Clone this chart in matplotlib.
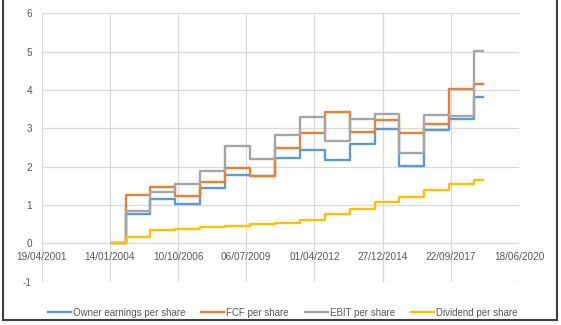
import datetime as dt

import matplotlib
matplotlib.use("Agg")
import matplotlib.pyplot as plt
import matplotlib.dates as mdates
from matplotlib.lines import Line2D

# yearly figures, each held until the next report date
report_dates = ["2004-02-12", "2004-08-31", "2005-08-31", "2006-08-31", "2007-08-31",
                "2008-08-31", "2009-08-31", "2010-08-31", "2011-08-31", "2012-08-31",
                "2013-08-31", "2014-08-31", "2015-08-31", "2016-08-31", "2017-08-31",
                "2018-08-31", "2019-01-10"]

owner_earnings = [0, 0.78, 1.15, 1.04, 1.45, 1.78, 1.77, 2.24, 2.43, 2.18,
                  2.59, 2.99, 2.03, 2.97, 3.25, 3.82]
fcf = [0, 1.25, 1.46, 1.23, 1.59, 1.96, 1.77, 2.49, 2.89, 3.44,
       2.90, 3.22, 2.88, 3.12, 4.02, 4.15]
ebit = [0, 0.84, 1.35, 1.56, 1.88, 2.54, 2.21, 2.83, 3.30, 2.68,
        3.25, 3.38, 2.35, 3.35, 3.33, 5.02]
dividend = [0, 0.17, 0.35, 0.38, 0.42, 0.45, 0.50, 0.54, 0.62, 0.78,
            0.90, 1.08, 1.21, 1.40, 1.54, 1.65]

series = [("Owner earnings per share", owner_earnings, "#5B9BD5"),
          ("FCF per share", fcf, "#ED7D31"),
          ("EBIT per share", ebit, "#A5A5A5"),
          ("Dividend per share", dividend, "#FFC000")]

plt.rcParams['font.family'] = ['Liberation Sans', 'DejaVu Sans']
plt.rcParams['axes.unicode_minus'] = False
text_col = "#595959"
grid_col = "#D9D9D9"

dates = [dt.datetime.strptime(d, "%Y-%m-%d") for d in report_dates]

fig = plt.figure(figsize=(5.61, 3.25), dpi=100)
ax = fig.add_axes([0.0743, 0.1332, 0.8508, 0.8253])

for name, vals, col in series:
    ax.plot(dates, vals + [vals[-1]], drawstyle="steps-post", color=col,
            lw=1.7, label=name)

x0 = dt.datetime(2001, 4, 19)
ticks = [x0 + dt.timedelta(days=1000 * k) for k in range(8)]
ax.set_xlim(ticks[0], ticks[-1])
ax.set_xticks(ticks)
ax.xaxis.set_major_formatter(mdates.DateFormatter("%d/%m/%Y"))
ax.set_ylim(-1, 6)
ax.set_yticks(range(-1, 7))

ax.grid(True, color=grid_col, lw=0.9)
ax.set_axisbelow(True)
for s in ax.spines.values():
    s.set_visible(False)
ax.spines['bottom'].set_position(('data', 0))
ax.tick_params(axis='both', length=0, labelsize=7.2, labelcolor=text_col)
ax.tick_params(axis='y', pad=7)
ax.tick_params(axis='x', pad=6)

fig.legend(loc="center", bbox_to_anchor=(0.5037, 0.038), ncol=4, frameon=False,
           fontsize=7.0, labelcolor=text_col, handlelength=2.4, handletextpad=0.2,
           columnspacing=1.6)

# dark frame round the chart (top edge falls outside the image)
for xs, ys in [([3 / 561, 3 / 561], [1.01, 1 - 320 / 325]),
               ([557 / 561, 557 / 561], [1.01, 1 - 320 / 325]),
               ([3 / 561, 557 / 561], [1 - 320 / 325, 1 - 320 / 325])]:
    fig.add_artist(Line2D(xs, ys, color="#404040", lw=1.5, transform=fig.transFigure))

fig.savefig("out.png", dpi=100)
